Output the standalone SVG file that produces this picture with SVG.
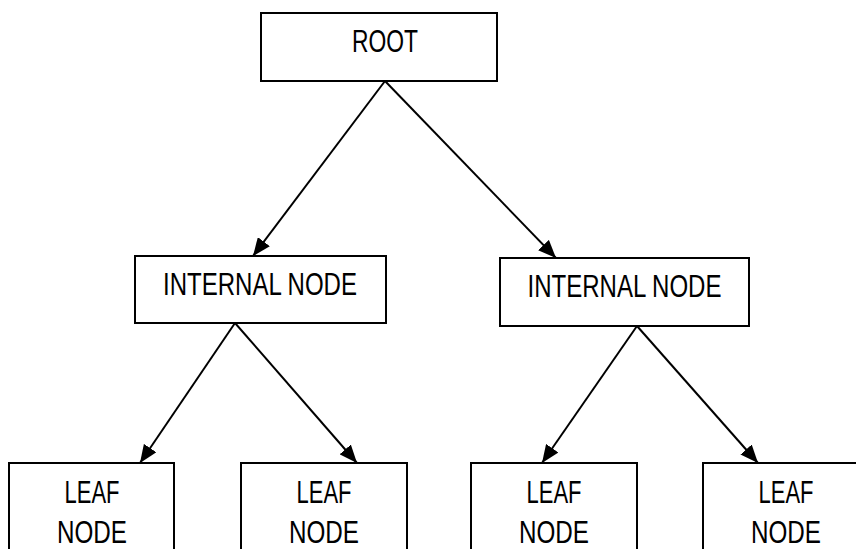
<svg xmlns="http://www.w3.org/2000/svg" width="856" height="549" viewBox="0 0 856 549">
<style>
.box{fill:#fff;stroke:#000;stroke-width:2}
.lbl{font-family:"Liberation Sans",Arial,sans-serif;font-size:31px;fill:#000;text-anchor:middle}
.edge{stroke:#000;stroke-width:2;fill:none;marker-end:url(#arr)}
</style>
<defs>
<marker id="arr" markerUnits="userSpaceOnUse" markerWidth="19" markerHeight="15" refX="18" refY="7.5" orient="auto">
<path d="M0,0 L18,7.5 L0,15 z" fill="#000"/>
</marker>
</defs>
<rect width="856" height="549" fill="#fff"/>
<g id="root">
<rect class="box" x="261" y="13" width="236" height="68"/>
<text class="lbl" x="385" y="52" textLength="66" lengthAdjust="spacingAndGlyphs">ROOT</text>
</g>
<g id="internal-left">
<rect class="box" x="135" y="256" width="251" height="67"/>
<text class="lbl" x="260" y="295" textLength="194" lengthAdjust="spacingAndGlyphs">INTERNAL NODE</text>
</g>
<g id="internal-right">
<rect class="box" x="500" y="258" width="249" height="68"/>
<text class="lbl" x="624.5" y="297" textLength="194" lengthAdjust="spacingAndGlyphs">INTERNAL NODE</text>
</g>
<g id="leaf1">
<rect class="box" x="9" y="463" width="165" height="110"/>
<text class="lbl" x="92" y="503" textLength="55" lengthAdjust="spacingAndGlyphs">LEAF</text>
<text class="lbl" x="92" y="543" textLength="70" lengthAdjust="spacingAndGlyphs">NODE</text>
</g>
<g id="leaf2">
<rect class="box" x="241" y="463" width="166" height="110"/>
<text class="lbl" x="324" y="503" textLength="55" lengthAdjust="spacingAndGlyphs">LEAF</text>
<text class="lbl" x="324" y="543" textLength="70" lengthAdjust="spacingAndGlyphs">NODE</text>
</g>
<g id="leaf3">
<rect class="box" x="471" y="463" width="166" height="110"/>
<text class="lbl" x="554" y="503" textLength="55" lengthAdjust="spacingAndGlyphs">LEAF</text>
<text class="lbl" x="554" y="543" textLength="70" lengthAdjust="spacingAndGlyphs">NODE</text>
</g>
<g id="leaf4">
<rect class="box" x="703" y="463" width="166" height="110"/>
<text class="lbl" x="786" y="503" textLength="55" lengthAdjust="spacingAndGlyphs">LEAF</text>
<text class="lbl" x="786" y="543" textLength="70" lengthAdjust="spacingAndGlyphs">NODE</text>
</g>
<g id="connectors">
<line class="edge" x1="385" y1="81" x2="253" y2="256"/>
<line class="edge" x1="385" y1="81" x2="556" y2="258"/>
<line class="edge" x1="235" y1="323" x2="140" y2="463"/>
<line class="edge" x1="235" y1="323" x2="357" y2="463"/>
<line class="edge" x1="637" y1="326" x2="542" y2="463"/>
<line class="edge" x1="637" y1="326" x2="758" y2="463"/>
</g>
</svg>
